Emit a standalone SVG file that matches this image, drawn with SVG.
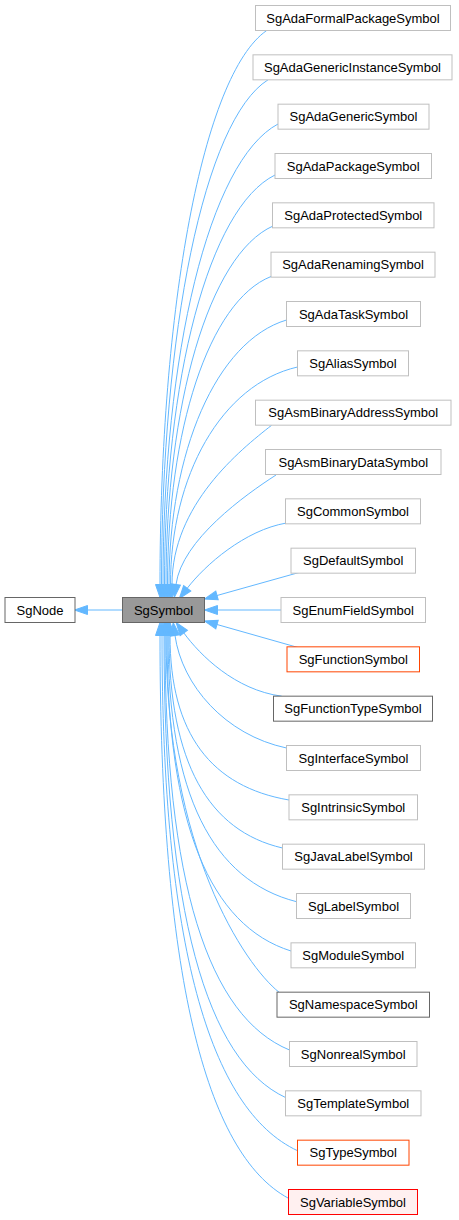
<svg xmlns="http://www.w3.org/2000/svg" width="459" height="1220" viewBox="0 0 459 1220">
<style>
rect{fill:#ffffff;stroke:#bfbfbf;stroke-width:1}
text{font-family:"Liberation Sans",Arial,sans-serif;font-size:13px;fill:#000000;text-anchor:middle}
.doc{stroke:#666666}
.root{fill:#999999;stroke:#666666}
.orng{stroke:#ff4500}
.red{stroke:#ff0000;fill:#fff0f0}
#connectors path{fill:none;stroke:#63b8ff;stroke-width:1;marker-end:url(#ah)}
</style>
<defs>
<marker id="ah" markerUnits="userSpaceOnUse" markerWidth="16" markerHeight="12" refX="0" refY="0" viewBox="-1 -6 16 12" orient="auto" overflow="visible">
<path d="M0,-4.5 L13,0 L0,4.5 Z" fill="#63b8ff" stroke="#63b8ff" stroke-width="1"/>
</marker>
</defs>
<rect x="0" y="0" width="459" height="1220" style="fill:#ffffff;stroke:none"/>
<g id="connectors">
<path d="M122.5,610 L87.5,610"/>
<path d="M266.7,30.5 C202.7,74.8 160,307.5 160,584.5"/>
<path d="M268,79.8 C204.1,120.2 161.5,332.2 161.5,584.5"/>
<path d="M278,124 C209,160.8 163,354.3 163,584.5"/>
<path d="M275,175 C208.7,207.8 164.5,379.8 164.5,584.5"/>
<path d="M273,226 C208.8,254.7 166,405.3 166,584.5"/>
<path d="M271,276.5 C208.9,301.1 167.5,430.5 167.5,584.5"/>
<path d="M286.5,320 C216,341.2 169,452.3 169,584.5"/>
<path d="M297.5,367 C221.3,384.4 170.5,475.8 170.5,584.5"/>
<path d="M271.7,425.2 C240,450 172,504.8 172,584.5"/>
<path d="M276,475 C245,495 182,540 176,584.5"/>
<path d="M286.5,523 C245,530 205,565 187.2,588.3"/>
<path d="M299,572.5 L217,595.5"/>
<path d="M281,610 L217.5,610"/>
<path d="M298,647.5 L217,624.5"/>
<path d="M281.7,696.2 C235,690 200,655 183.8,632.9"/>
<path d="M286.5,748 C225,735 182,685 175,635.5"/>
<path d="M289,800 C211.7,786.8 170,734.2 170,635.5"/>
<path d="M282.5,848 C208.7,831 169,763 169,635.5"/>
<path d="M296.5,901.7 C213,880.4 168,795.2 168,635.5"/>
<path d="M291,951 C210.4,925.8 167,824.8 167,635.5"/>
<path d="M279,992.2 C245,965 166,849.4 166,635.5"/>
<path d="M289.5,1050 C208.6,1016.8 165,884.2 165,635.5"/>
<path d="M285.5,1097.5 C206.5,1060.5 164,912.7 164,635.5"/>
<path d="M297.5,1150.7 C209.4,1109.5 162,944.6 162,635.5"/>
<path d="M288.5,1198.3 C205,1153.3 160,973.2 160,635.5"/>
</g>
<g id="node-SgNode"><rect class="doc" x="5" y="597.5" width="70" height="25"/><text x="40" y="614.5">SgNode</text></g>
<g id="node-SgSymbol"><rect class="root" x="122.5" y="597.5" width="82" height="25"/><text x="163.5" y="614.5">SgSymbol</text></g>
<g id="node-SgAdaFormalPackageSymbol"><rect x="255.5" y="5.5" width="195" height="25"/><text x="353" y="22.5">SgAdaFormalPackageSymbol</text></g>
<g id="node-SgAdaGenericInstanceSymbol"><rect x="253" y="54.83" width="199" height="25"/><text x="352.5" y="71.83">SgAdaGenericInstanceSymbol</text></g>
<g id="node-SgAdaGenericSymbol"><rect x="278" y="104.17" width="151" height="25"/><text x="353.5" y="121.17">SgAdaGenericSymbol</text></g>
<g id="node-SgAdaPackageSymbol"><rect x="275" y="153.5" width="156.5" height="25"/><text x="353.25" y="170.5">SgAdaPackageSymbol</text></g>
<g id="node-SgAdaProtectedSymbol"><rect x="272.5" y="202.83" width="161.5" height="25"/><text x="353.25" y="219.83">SgAdaProtectedSymbol</text></g>
<g id="node-SgAdaRenamingSymbol"><rect x="271" y="252.17" width="164" height="25"/><text x="353" y="269.17">SgAdaRenamingSymbol</text></g>
<g id="node-SgAdaTaskSymbol"><rect x="286.5" y="301.5" width="134" height="25"/><text x="353.5" y="318.5">SgAdaTaskSymbol</text></g>
<g id="node-SgAliasSymbol"><rect x="297.5" y="350.83" width="111" height="25"/><text x="353" y="367.83">SgAliasSymbol</text></g>
<g id="node-SgAsmBinaryAddressSymbol"><rect x="255.5" y="400.17" width="195.5" height="25"/><text x="353.25" y="417.17">SgAsmBinaryAddressSymbol</text></g>
<g id="node-SgAsmBinaryDataSymbol"><rect x="265.5" y="449.5" width="175.5" height="25"/><text x="353.25" y="466.5">SgAsmBinaryDataSymbol</text></g>
<g id="node-SgCommonSymbol"><rect x="285.5" y="498.83" width="135" height="25"/><text x="353" y="515.83">SgCommonSymbol</text></g>
<g id="node-SgDefaultSymbol"><rect x="291" y="548.17" width="124.5" height="25"/><text x="353.25" y="565.17">SgDefaultSymbol</text></g>
<g id="node-SgEnumFieldSymbol"><rect x="281" y="597.5" width="144.5" height="25"/><text x="353.25" y="614.5">SgEnumFieldSymbol</text></g>
<g id="node-SgFunctionSymbol"><rect class="orng" x="287" y="646.83" width="132.5" height="25"/><text x="353.25" y="663.83">SgFunctionSymbol</text></g>
<g id="node-SgFunctionTypeSymbol"><rect class="doc" x="273.5" y="696.17" width="159" height="25"/><text x="353" y="713.17">SgFunctionTypeSymbol</text></g>
<g id="node-SgInterfaceSymbol"><rect x="286.5" y="745.5" width="134" height="25"/><text x="353.5" y="762.5">SgInterfaceSymbol</text></g>
<g id="node-SgIntrinsicSymbol"><rect x="289" y="794.83" width="128.5" height="25"/><text x="353.25" y="811.83">SgIntrinsicSymbol</text></g>
<g id="node-SgJavaLabelSymbol"><rect x="282.5" y="844.17" width="142" height="25"/><text x="353.5" y="861.17">SgJavaLabelSymbol</text></g>
<g id="node-SgLabelSymbol"><rect x="296.5" y="893.5" width="114" height="25"/><text x="353.5" y="910.5">SgLabelSymbol</text></g>
<g id="node-SgModuleSymbol"><rect x="291" y="942.83" width="124.5" height="25"/><text x="353.25" y="959.83">SgModuleSymbol</text></g>
<g id="node-SgNamespaceSymbol"><rect class="doc" x="277" y="992.17" width="152.5" height="25"/><text x="353.25" y="1009.17">SgNamespaceSymbol</text></g>
<g id="node-SgNonrealSymbol"><rect x="289.5" y="1041.5" width="127.5" height="25"/><text x="353.25" y="1058.5">SgNonrealSymbol</text></g>
<g id="node-SgTemplateSymbol"><rect x="285.5" y="1090.83" width="135.5" height="25"/><text x="353.25" y="1107.83">SgTemplateSymbol</text></g>
<g id="node-SgTypeSymbol"><rect class="orng" x="297.5" y="1140.17" width="111.5" height="25"/><text x="353.25" y="1157.17">SgTypeSymbol</text></g>
<g id="node-SgVariableSymbol"><rect class="red" x="288.5" y="1189.5" width="129" height="25"/><text x="353" y="1206.5">SgVariableSymbol</text></g>
</svg>
